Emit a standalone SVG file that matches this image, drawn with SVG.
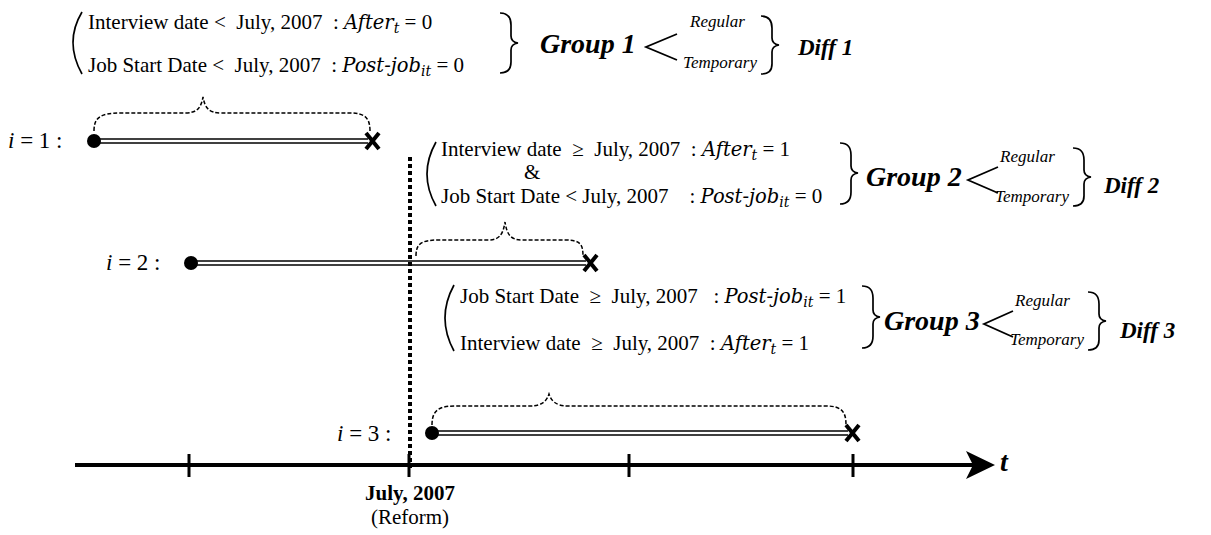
<svg xmlns="http://www.w3.org/2000/svg" width="1211" height="535" viewBox="0 0 1211 535">
<style>
text{white-space:pre}
.t{font-family:"Liberation Serif","Times New Roman",serif;font-size:21px;fill:#000}
.m{font-family:"DejaVu Serif",serif;font-style:italic;font-size:19.5px}
.s{font-size:14px}
.g{font-family:"Liberation Serif",serif;font-weight:bold;font-style:italic;font-size:28px;fill:#000}
.d{font-family:"Liberation Serif",serif;font-weight:bold;font-style:italic;font-size:23px;fill:#000}
.r{font-family:"Liberation Serif",serif;font-style:italic;font-size:17px;fill:#000}
.br{fill:none;stroke:#000;stroke-width:1.7}
.db{fill:none;stroke:#000;stroke-width:1.5;stroke-dasharray:4 2}
.ln{fill:none;stroke:#000;stroke-width:1.5}
.lt{fill:none;stroke:#000;stroke-width:1.8}
.x{stroke:#000;stroke-width:4;fill:none}
.ax{stroke:#000;stroke-width:4;fill:none}
.tk{stroke:#000;stroke-width:3;fill:none}
.i{font-family:"Liberation Serif",serif;font-size:23px;fill:#000}
</style>
<g id="connectors">
<line class="ax" x1="75" y1="465" x2="980" y2="465"/>
<polygon points="966,451 995,465 966,479 973,465" fill="#000"/>
<line class="tk" x1="189" y1="454" x2="189" y2="477"/>
<line class="tk" x1="409" y1="454" x2="409" y2="477"/>
<line class="tk" x1="629" y1="454" x2="629" y2="477"/>
<line class="tk" x1="853" y1="454" x2="853" y2="477"/>
<line x1="410" y1="157" x2="410" y2="468" stroke="#000" stroke-width="4" stroke-dasharray="4 3"/>
</g>
<g id="axis-labels">
<text x="1000" y="471" class="g" font-size="24">t</text>
<text x="410" y="500" text-anchor="middle" class="t" font-weight="bold" font-size="17">July, 2007</text>
<text x="410" y="524" text-anchor="middle" class="t" font-size="17">(Reform)</text>
</g>
<g id="row1">
<text x="8" y="148" class="i"><tspan font-style="italic">i</tspan> = 1 :</text>
<circle cx="94" cy="141" r="7"/>
<line class="ln" x1="94" y1="139" x2="368" y2="139"/>
<line class="ln" x1="94" y1="143" x2="368" y2="143"/>
<path class="x" d="M366,133 L379,149 M379,133 L366,149"/>
<path class="db" d="M94,131 C94,118 100,113 120,113 L185,113 C197,113 201,108 203,97 C205,108 209,113 221,113 L350,113 C365,113 370,118 370,131"/>
</g>
<g id="group1">
<path class="br" d="M82,12 Q64,42 82,74"/>
<text x="88" y="29" class="t">Interview date &lt;  July, 2007  : <tspan class="m">After</tspan><tspan class="m s" dy="4">t</tspan><tspan dy="-4"> = 0</tspan></text>
<text x="88" y="72" class="t">Job Start Date &lt;  July, 2007  : <tspan class="m">Post-job</tspan><tspan class="m s" dy="4">it</tspan><tspan dy="-4"> = 0</tspan></text>
<path class="br" d="M500,13 Q511,13 511,25 L511,36 Q511,42 518,43 Q511,44 511,50 L511,62 Q511,73 500,73"/>
<text x="540" y="53" class="g">Group 1</text>
<path class="lt" d="M677,34 L646,47 L677,60"/>
<text x="690" y="27" class="r">Regular</text>
<text x="683" y="68" class="r">Temporary</text>
<path class="br" d="M761,16 Q772,16 772,28 L772,38 Q772,44 779,45 Q772,46 772,52 L772,64 Q772,74 761,74"/>
<text x="798" y="55" class="d">Diff 1</text>
</g>
<g id="row2">
<text x="106" y="270" class="i"><tspan font-style="italic">i</tspan> = 2 :</text>
<circle cx="191" cy="263" r="7"/>
<line class="ln" x1="191" y1="261" x2="586" y2="261"/>
<line class="ln" x1="191" y1="265" x2="586" y2="265"/>
<path class="x" d="M584,255 L597,271 M597,255 L584,271"/>
<path class="db" d="M416,256 C416,244 421,240 438,240 L488,240 C500,240 503,234 505,222 C507,234 510,240 522,240 L565,240 C580,240 583,244 583,256"/>
</g>
<g id="group2">
<path class="br" d="M436,142 Q418,174 436,206"/>
<text x="441" y="156" class="t">Interview date  ≥  July, 2007  : <tspan class="m">After</tspan><tspan class="m s" dy="4">t</tspan><tspan dy="-4"> = 1</tspan></text>
<text x="524" y="179" class="t" font-size="17">&amp;</text>
<text x="441" y="203" class="t">Job Start Date &lt; July, 2007    : <tspan class="m">Post-job</tspan><tspan class="m s" dy="4">it</tspan><tspan dy="-4"> = 0</tspan></text>
<path class="br" d="M840,143 Q851,143 851,155 L851,166 Q851,172 858,173 Q851,174 851,180 L851,192 Q851,204 840,204"/>
<text x="866" y="186" class="g">Group 2</text>
<path class="lt" d="M998,167 L968,180 L998,193"/>
<text x="1000" y="162" class="r">Regular</text>
<text x="995" y="202" class="r">Temporary</text>
<path class="br" d="M1073,148 Q1084,148 1084,160 L1084,170 Q1084,176 1091,177 Q1084,178 1084,184 L1084,196 Q1084,206 1073,206"/>
<text x="1104" y="193" class="d">Diff 2</text>
</g>
<g id="row3">
<text x="337" y="441" class="i"><tspan font-style="italic">i</tspan> = 3 :</text>
<circle cx="432" cy="433" r="7"/>
<line class="ln" x1="432" y1="431" x2="848" y2="431"/>
<line class="ln" x1="432" y1="435" x2="848" y2="435"/>
<path class="x" d="M846,425 L859,441 M859,425 L846,441"/>
<path class="db" d="M432,425 C432,412 437,406 455,406 L530,406 C543,406 547,400 549,394 C551,400 555,406 568,406 L826,406 C842,406 846,412 846,425"/>
</g>
<g id="group3">
<path class="br" d="M454,285 Q436,318 454,351"/>
<text x="460" y="303" class="t">Job Start Date  ≥  July, 2007   : <tspan class="m">Post-job</tspan><tspan class="m s" dy="4">it</tspan><tspan dy="-4"> = 1</tspan></text>
<text x="460" y="350" class="t">Interview date  ≥  July, 2007  : <tspan class="m">After</tspan><tspan class="m s" dy="4">t</tspan><tspan dy="-4"> = 1</tspan></text>
<path class="br" d="M862,286 Q873,286 873,298 L873,310 Q873,316 880,317 Q873,318 873,324 L873,336 Q873,348 862,348"/>
<text x="884" y="330" class="g">Group 3</text>
<path class="lt" d="M1013,311 L984,324 L1013,337"/>
<text x="1015" y="306" class="r">Regular</text>
<text x="1010" y="345" class="r">Temporary</text>
<path class="br" d="M1088,292 Q1099,292 1099,304 L1099,314 Q1099,320 1106,321 Q1099,322 1099,328 L1099,340 Q1099,350 1088,350"/>
<text x="1120" y="338" class="d">Diff 3</text>
</g>
</svg>
